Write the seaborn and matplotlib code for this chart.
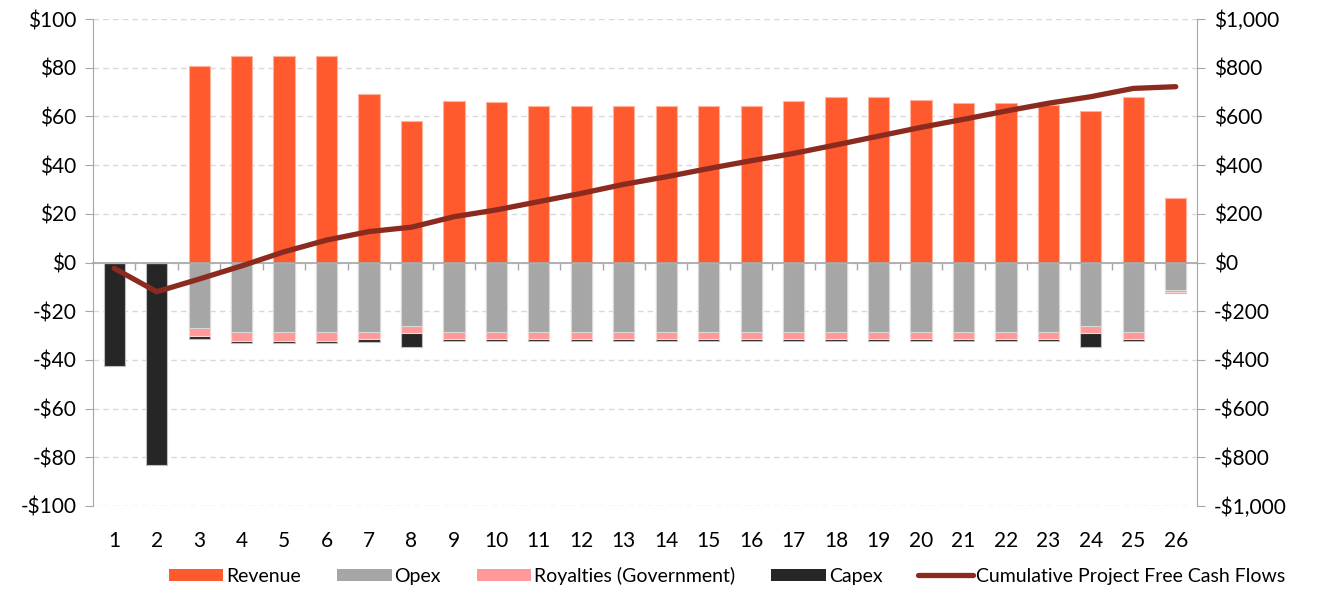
import numpy as np
import pandas as pd
import matplotlib
matplotlib.use("Agg")
import matplotlib.pyplot as plt
import seaborn as sns
from matplotlib.ticker import FuncFormatter, FixedLocator
from matplotlib.patches import Patch
from matplotlib.lines import Line2D

years = list(range(1, 27))
revenue = [0, 0, 80.7, 84.8, 84.8, 84.8, 69.2, 58.1, 66.3, 65.9, 64.4, 64.4, 64.4,
           64.4, 64.4, 64.4, 66.2, 67.8, 67.8, 66.7, 65.4, 65.4, 64.8, 62.2, 68.1, 26.4]
opex = [0, 0, 26.8, 28.5, 28.5, 28.5, 28.5, 26.1, 28.5, 28.5, 28.5, 28.5, 28.5,
        28.5, 28.5, 28.5, 28.5, 28.5, 28.5, 28.5, 28.5, 28.5, 28.5, 26.1, 28.5, 11.3]
royalties = [0, 0, 3.5, 3.7, 3.7, 3.7, 3.0, 2.7, 2.9, 2.9, 2.9, 2.9, 2.9,
             2.9, 2.9, 2.9, 2.9, 2.9, 2.9, 2.9, 2.9, 2.9, 2.9, 2.8, 2.9, 0.9]
capex = [42.5, 83.0, 1.0, 1.0, 1.0, 1.0, 1.0, 5.9, 0.9, 0.9, 0.8, 0.8, 0.8,
         0.8, 0.8, 0.8, 0.8, 0.8, 0.8, 0.8, 0.8, 0.8, 0.8, 5.9, 0.8, 0.4]
cumulative_fcf = [-24, -120, -68, -14, 44, 92, 127, 145, 188, 216, 250, 284, 321,
                  352, 386, 418, 448, 483, 519, 555, 588, 622, 654, 681, 715, 722]

labels = ["Revenue", "Opex", "Royalties (Government)", "Capex",
          "Cumulative Project Free Cash Flows"]
colors = ["#FF5A2D", "#A6A6A6", "#FF9999", "#262626", "#8B2B20"]

df = pd.DataFrame({
    "year": [str(y) for y in years],
    "revenue": revenue,
    "opex_neg": [-o for o in opex],
    "roy_neg": [-(o + r) for o, r in zip(opex, royalties)],
    "cap_neg": [-(o + r + c) for o, r, c in zip(opex, royalties, capex)],
    "pos": np.arange(len(years)),
    "cum": cumulative_fcf,
})
order = df["year"].tolist()

plt.rcParams["font.family"] = ["Lato", "DejaVu Sans"]
fig = plt.figure(figsize=(13.17, 5.89), dpi=100)
ax = fig.add_axes([93/1317, 1 - 506/589, (1197 - 93)/1317, (506 - 19)/589])

bar_kw = dict(width=0.5, linewidth=0.8, saturation=1, order=order)
sns.barplot(data=df, x="year", y="revenue", color=colors[0], edgecolor="#FFB29C", ax=ax, **bar_kw)
sns.barplot(data=df, x="year", y="cap_neg", color=colors[3], edgecolor="#BFBFBF", ax=ax, **bar_kw)
sns.barplot(data=df, x="year", y="roy_neg", color=colors[2], edgecolor="#FFD0D0", ax=ax, **bar_kw)
sns.barplot(data=df, x="year", y="opex_neg", color=colors[1], edgecolor="#D9D9D9", ax=ax, **bar_kw)

ax.set_ylim(-100, 100)
ax.set_xlim(-0.5, len(years) - 0.5)
ax.set_yticks(np.arange(-100, 101, 20))
ax.yaxis.set_major_formatter(FuncFormatter(lambda v, p: f"-${abs(v):.0f}" if v < 0 else f"${v:.0f}"))
ax.set_xlabel("")
ax.set_ylabel("")
ax.grid(axis="y", color="#D9D9D9", linestyle=(0, (4, 3)), linewidth=1)
ax.set_axisbelow(True)

for s in ["top", "right"]:
    ax.spines[s].set_visible(False)
ax.spines["left"].set_color("#A6A6A6")
ax.spines["bottom"].set_position(("data", 0))
ax.spines["bottom"].set_color("#A6A6A6")
ax.spines["bottom"].set_linewidth(1.2)
ax.set_xticks([])
ax.xaxis.set_minor_locator(FixedLocator(np.arange(0.5, len(years) - 1, 1.0)))
ax.tick_params(axis="x", which="minor", direction="out", length=5, color="#A6A6A6", width=1)
ax.tick_params(axis="y", which="major", direction="out", length=6, color="#A6A6A6",
               labelsize=15, pad=6, labelcolor="#000000")

secx = ax.secondary_xaxis(0.0)
secx.set_xticks(df["pos"].tolist())
secx.set_xticklabels(order)
secx.tick_params(length=0, labelsize=15, pad=18)
secx.spines["bottom"].set_visible(False)

ax2 = ax.twinx()
sns.lineplot(data=df, x="pos", y="cum", color=colors[4], linewidth=3.8, ax=ax2,
             solid_capstyle="round", solid_joinstyle="round")
ax2.set_ylim(-1000, 1000)
ax2.set_yticks(np.arange(-1000, 1001, 200))
ax2.yaxis.set_major_formatter(FuncFormatter(lambda v, p: f"-${abs(v):,.0f}" if v < 0 else f"${v:,.0f}"))
ax2.set_ylabel("")
ax2.set_xlabel("")
for s in ["top", "left", "bottom"]:
    ax2.spines[s].set_visible(False)
ax2.spines["right"].set_color("#A6A6A6")
ax2.tick_params(axis="y", direction="out", length=6, color="#A6A6A6", labelsize=15, pad=6)
ax2.set_xlim(-0.5, len(years) - 0.5)

handles = [Patch(facecolor=colors[i], edgecolor="none") for i in range(4)]
handles.append(Line2D([0], [0], color=colors[4], linewidth=3.8, solid_capstyle="round"))
fig.legend(handles, labels, loc="center", bbox_to_anchor=(0.552, 1 - 576/589), ncol=5,
           frameon=False, fontsize=14, handlelength=2.8, handleheight=0.62,
           handletextpad=0.15, columnspacing=1.85)

fig.savefig("out.png", dpi=100)
